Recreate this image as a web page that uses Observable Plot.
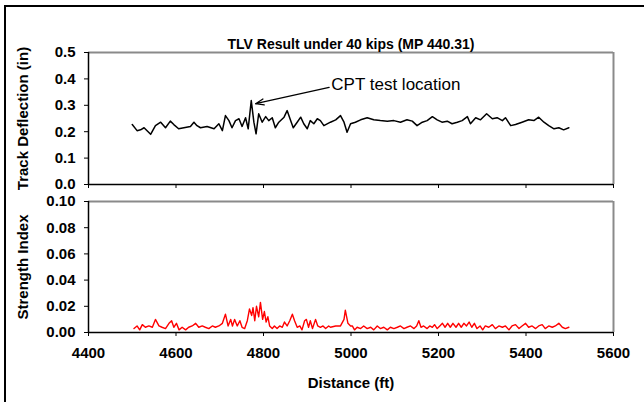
<!DOCTYPE html>
<html><head><meta charset="utf-8">
<script src="https://cdn.jsdelivr.net/npm/d3@7"></script>
<script src="https://cdn.jsdelivr.net/npm/@observablehq/plot@0.6"></script>
<style>
html,body{margin:0;padding:0;background:#fff;}
#chart{position:relative;width:644px;height:402px;overflow:hidden;background:#fff;font-family:"Liberation Sans",Arial,sans-serif;}
#frame{position:absolute;left:4px;top:5px;width:700px;height:440px;border-left:2px solid #000;border-top:2px solid #000;}
#top{position:absolute;left:0;top:0;}
#bottom{position:absolute;left:0;top:190px;}
</style></head><body>
<div id="chart"><div id="frame"></div><div id="top"></div><div id="bottom"></div></div>
<script>
// ---- data ----
const title = "TLV Result under 40 kips (MP 440.31)";
const topYLabel = "Track Deflection (in)";
const bottomYLabel = "Strength Index";
const xLabel = "Distance (ft)";
const xTicks = [4400, 4600, 4800, 5000, 5200, 5400, 5600];
const deflectionTicks = [0, 0.1, 0.2, 0.3, 0.4, 0.5];
const strengthTicks = [0, 0.02, 0.04, 0.06, 0.08, 0.10];

const deflectionDistance = [
  4500,4511,4519,4527,4542,4553,4565,4576,4587,4595,
  4606,4618,4633,4641,4648,4656,4671,4687,4698,4706,
  4713,4721,4728,4736,4744,4751,4759,4765,4772,4778,
  4783,4789,4797,4805,4812,4820,4827,4835,4847,4854,
  4862,4868,4877,4885,4892,4900,4907,4915,4923,4930,
  4938,4953,4965,4976,4984,4991,4999,5010,5022,5037,
  5052,5067,5083,5098,5113,5128,5140,5151,5163,5174,
  5186,5197,5208,5220,5231,5243,5254,5266,5273,5285,
  5296,5310,5323,5334,5346,5353,5365,5376,5391,5406,
  5418,5429,5441,5452,5464,5475,5486,5498
];
const deflection = [
  0.227,0.204,0.207,0.215,0.190,0.223,0.236,0.215,0.240,0.227,
  0.211,0.215,0.220,0.236,0.223,0.215,0.220,0.211,0.230,0.204,
  0.261,0.242,0.215,0.242,0.249,0.220,0.253,0.211,0.318,0.236,
  0.192,0.268,0.236,0.257,0.242,0.253,0.215,0.236,0.255,0.280,
  0.242,0.215,0.236,0.255,0.230,0.211,0.242,0.230,0.249,0.242,
  0.223,0.236,0.245,0.261,0.236,0.198,0.230,0.236,0.245,0.253,
  0.245,0.242,0.240,0.242,0.236,0.245,0.240,0.223,0.236,0.242,
  0.257,0.245,0.236,0.240,0.230,0.236,0.242,0.257,0.230,0.253,
  0.245,0.268,0.249,0.253,0.242,0.253,0.223,0.227,0.236,0.245,
  0.242,0.255,0.236,0.223,0.211,0.215,0.207,0.215
];

const strengthDistance = [
  4504,4511,4517,4523,4530,4538,4546,4553,4561,4568,
  4576,4584,4590,4595,4601,4607,4614,4622,4629,4637,
  4645,4652,4660,4667,4675,4683,4690,4698,4706,4713,
  4719,4725,4729,4734,4740,4746,4751,4757,4763,4768,
  4773,4776,4780,4784,4789,4793,4798,4802,4806,4810,
  4814,4820,4825,4831,4837,4843,4848,4854,4860,4866,
  4871,4877,4883,4888,4894,4898,4903,4907,4912,4919,
  4924,4930,4936,4942,4949,
  4953,4965,4976,4984,4987,4993,4999,5003,5008,5014,
  5022,5029,5037,5045,5052,5060,5067,5075,5083,5090,
  5098,5106,5113,5121,5128,5136,5144,5150,5155,5160,
  5166,5174,5180,5186,5191,5197,5203,5209,5215,5221,
  5227,5233,5240,5246,5252,5258,5264,5270,5276,5282,
  5288,5295,5301,5307,5315,5323,5330,5338,5346,5353,
  5361,5368,5376,5384,5391,5399,5406,5414,5422,5429,
  5437,5444,5452,5460,5467,5475,5483,5490,5498
];
const strength = [
  0.003,0.005,0.002,0.006,0.004,0.005,0.004,0.010,0.005,0.004,
  0.003,0.007,0.009,0.004,0.007,0.002,0.004,0.002,0.004,0.005,
  0.007,0.004,0.005,0.004,0.003,0.005,0.004,0.005,0.007,0.014,
  0.005,0.010,0.005,0.010,0.005,0.009,0.004,0.003,0.009,0.018,
  0.013,0.019,0.009,0.020,0.012,0.023,0.010,0.016,0.008,0.012,
  0.005,0.003,0.005,0.003,0.005,0.004,0.008,0.005,0.009,0.014,
  0.009,0.004,0.005,0.002,0.009,0.010,0.004,0.009,0.003,0.010,
  0.005,0.004,0.005,0.003,0.005,
  0.004,0.005,0.005,0.010,0.017,0.007,0.005,0.005,0.002,0.004,
  0.003,0.005,0.003,0.004,0.002,0.005,0.003,0.004,0.002,0.004,
  0.003,0.004,0.005,0.003,0.004,0.005,0.003,0.005,0.009,0.004,
  0.005,0.003,0.005,0.004,0.006,0.003,0.005,0.007,0.004,0.007,
  0.004,0.007,0.004,0.007,0.004,0.007,0.005,0.008,0.004,0.007,
  0.003,0.005,0.002,0.005,0.004,0.006,0.003,0.005,0.004,0.005,
  0.002,0.005,0.006,0.003,0.005,0.007,0.004,0.005,0.003,0.005,
  0.006,0.003,0.005,0.004,0.005,0.007,0.004,0.003,0.004
];

// annotation (data units)
const annotationLabel = ["CPT test location"];
const annotationText = [4955, 0.377];
const annotationFrom = [4950, 0.368];
const annotationTo = [4782, 0.306];

// ---- build tables ----
const topData = deflectionDistance.slice(0, Math.min(deflectionDistance.length, deflection.length))
  .map((d, i) => ({distance: d, value: deflection[i]}));
const bottomData = strengthDistance.slice(0, Math.min(strengthDistance.length, strength.length))
  .map((d, i) => ({distance: d, value: strength[i]}));
const annotation = [{
  label: annotationLabel[0],
  tx: annotationText[0], ty: annotationText[1],
  x1: annotationFrom[0], y1: annotationFrom[1],
  x2: annotationTo[0], y2: annotationTo[1]
}];

const FONT = '"Liberation Sans", Arial, Helvetica, sans-serif';
const baseStyle = {fontFamily: FONT, fontSize: "15px", fontWeight: "bold", color: "#000", background: "transparent", overflow: "visible"};
const xDomain = [4400, 5600];

const topPlot = Plot.plot({
  width: 644, height: 190,
  marginLeft: 88, marginRight: 31, marginTop: 52, marginBottom: 6,
  style: baseStyle,
  x: {domain: xDomain, ticks: xTicks, tickFormat: () => "", tickSize: 4, label: null},
  y: {domain: [0, 0.5], ticks: deflectionTicks, tickFormat: d3.format(".1f"), tickSize: 4, tickPadding: 9, label: null},
  marks: [
    Plot.ruleY([0.5], {stroke: "#8a8a8a", strokeWidth: 2}),
    Plot.ruleX([5600], {stroke: "#8a8a8a", strokeWidth: 2}),
    Plot.ruleX([4400], {stroke: "#000", strokeWidth: 1.5}),
    Plot.ruleY([0], {stroke: "#000", strokeWidth: 1.5}),
    Plot.line(topData, {x: "distance", y: "value", stroke: "#000", strokeWidth: 1.5}),
    Plot.arrow(annotation, {x1: "x1", y1: "y1", x2: "x2", y2: "y2", stroke: "#000", strokeWidth: 1.3, headLength: 10, headAngle: 40}),
    Plot.text(annotation, {x: "tx", y: "ty", text: "label", textAnchor: "start", fontSize: 17, fontWeight: "normal", fill: "#000"}),
    Plot.text([title], {text: d => d, frameAnchor: "top", textAnchor: "middle", dy: -13, fontSize: 14, fontWeight: "bold", fill: "#000"}),
    Plot.text([topYLabel], {text: d => d, frameAnchor: "left", textAnchor: "middle", dx: -65, rotate: -90, fontSize: 15, fill: "#000"})
  ]
});
document.getElementById("top").appendChild(topPlot);

const bottomPlot = Plot.plot({
  width: 644, height: 212,
  marginLeft: 88, marginRight: 31, marginTop: 11, marginBottom: 70,
  style: baseStyle,
  x: {domain: xDomain, ticks: xTicks, tickFormat: d3.format("d"), tickSize: 4, tickPadding: 10.5, label: null},
  y: {domain: [0, 0.1], ticks: strengthTicks, tickFormat: d3.format(".2f"), tickSize: 4, tickPadding: 9, label: null},
  marks: [
    Plot.ruleY([0.1], {stroke: "#8a8a8a", strokeWidth: 2}),
    Plot.ruleX([5600], {stroke: "#8a8a8a", strokeWidth: 2}),
    Plot.ruleX([4400], {stroke: "#000", strokeWidth: 1.5}),
    Plot.ruleY([0], {stroke: "#000", strokeWidth: 1.5}),
    Plot.line(bottomData, {x: "distance", y: "value", stroke: "#ff0000", strokeWidth: 1.4}),
    Plot.text([xLabel], {text: d => d, frameAnchor: "bottom", textAnchor: "middle", dy: 55, fontSize: 15, fill: "#000"}),
    Plot.text([bottomYLabel], {text: d => d, frameAnchor: "left", textAnchor: "middle", dx: -65, rotate: -90, fontSize: 15, fill: "#000"})
  ]
});
document.getElementById("bottom").appendChild(bottomPlot);
</script>
</body></html>
